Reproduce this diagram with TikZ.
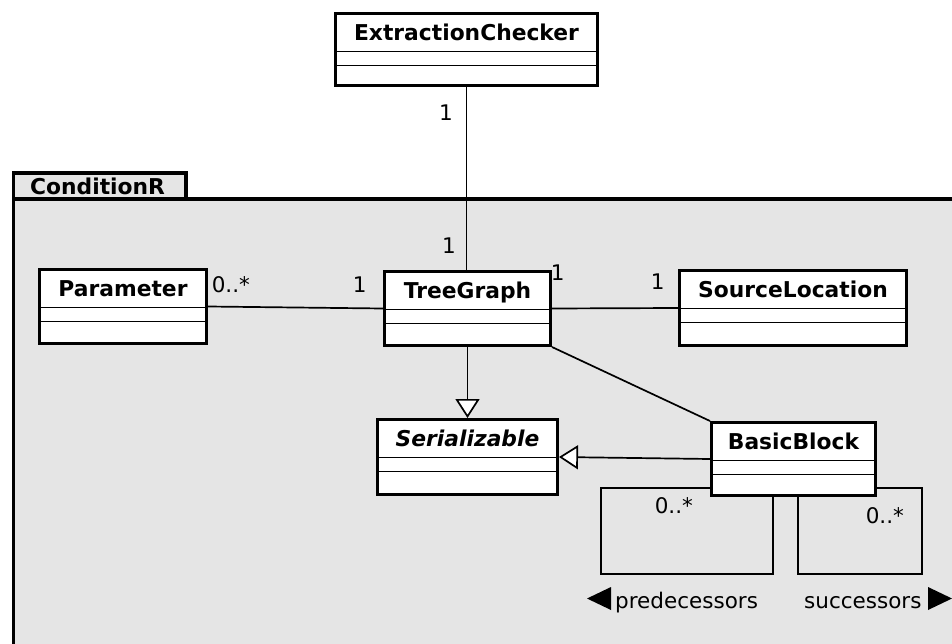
\documentclass[tikz,border=0pt]{standalone}
\usepackage{fontspec}
\setmainfont{DejaVu Sans}
\usetikzlibrary{arrows.meta,calc}
\definecolor{pkgfill}{RGB}{229,229,229}

\tikzset{
  pkgframe/.style={draw, line width=3.2pt, fill=pkgfill},
  classbox/.style={draw, line width=3.4pt, fill=white, inner sep=0pt},
  compline/.style={line width=1.5pt},
  assoc/.style={line width=1.7pt},
  realize/.style={line width=1.7pt, -{Triangle[open, length=19pt, width=24pt, fill=white]}},
  mult/.style={font=\fontsize{21.5}{26}\selectfont, inner sep=0pt, anchor=base west},
  cname/.style={font=\bfseries\fontsize{21.8}{26}\selectfont, inner sep=0pt, anchor=base},
}

% UML class: id, left, top, right, bottom (outer edges), name
\newcommand{\umlclass}[6]{%
  \node[classbox, minimum width={(#4-#2-3.4)*1pt}, minimum height={(#5-#3-3.4)*1pt}]
    (#1) at ({(#2+#4)/2},{(#3+#5)/2}) {};
  \draw[compline] ([yshift=-39.5pt]#1.north west) -- ([yshift=-39.5pt]#1.north east);
  \draw[compline] ([yshift=-53.5pt]#1.north west) -- ([yshift=-53.5pt]#1.north east);
  \node[cname] (#1-name) at ([yshift=-28.5pt]#1.north) {#6};
}

\begin{document}
\begin{tikzpicture}[x=1pt,y=-1pt]
  \useasboundingbox (0,0) rectangle (952,644);
  \clip (0,0) rectangle (952,644);
  \fill[white] (0,0) rectangle (952,644);

  % package ConditionR
  \draw[pkgframe] (13.5,173) rectangle (186,199);
  \draw[pkgframe] (13.5,199) rectangle (990,680);
  \node[cname, anchor=base west] (pkg-name) at (30,195) {ConditionR};

  % classes
  \umlclass{ec}{334}{12}{599}{87}{ExtractionChecker}
  \umlclass{par}{38}{268}{208}{345}{Parameter}
  \umlclass{tg}{383}{270}{552}{347}{TreeGraph}
  \umlclass{sl}{678}{269}{908}{347}{SourceLocation}
  \umlclass{ser}{376}{418}{559}{496}{\itshape Serializable}
  \umlclass{bb}{710}{421}{877}{497}{BasicBlock}

  % associations
  \draw[assoc] (ec.south) -- (ec.south |- tg.north);
  \draw[assoc] (par.east) -- (tg.west);
  \draw[assoc] (tg.east) -- (sl.west);
  \draw[assoc] (tg.south east) -- (bb.north west);

  % realizations
  \draw[realize] (tg.south) -- (tg.south |- ser.north);
  \draw[realize] (bb.west) -- (ser.east);

  % self associations of BasicBlock
  \coordinate (predcorner) at (601,574);
  \coordinate (succcorner) at (922,574);
  \draw[assoc] ([xshift=63pt]bb.south west) |- (predcorner) |- ([yshift=9pt]bb.south west);
  \draw[assoc] ([xshift=-79pt]bb.south east) |- (succcorner) |- ([yshift=9pt]bb.south east);

  % multiplicities
  \node[mult] (m1) at (439,121) {1};
  \node[mult] (m2) at (442,253) {1};
  \node[mult] (m3) at (211.6,292) {0..*};
  \node[mult] (m4) at (352.6,292) {1};
  \node[mult] (m5) at (550.6,280) {1};
  \node[mult] (m6) at (650.6,289) {1};
  \node[mult] (m7) at (654.6,513) {0..*};
  \node[mult] (m8) at (865.6,523) {0..*};

  % role names with direction markers
  \node[mult] (rpred) at (615,608) {predecessors};
  \node[mult] (rsucc) at (804,608) {successors};
  \fill (587,598.5) -- (611,587) -- (611,610) -- cycle;
  \fill (952,598.5) -- (928,587) -- (928,610) -- cycle;
\end{tikzpicture}
\end{document}
